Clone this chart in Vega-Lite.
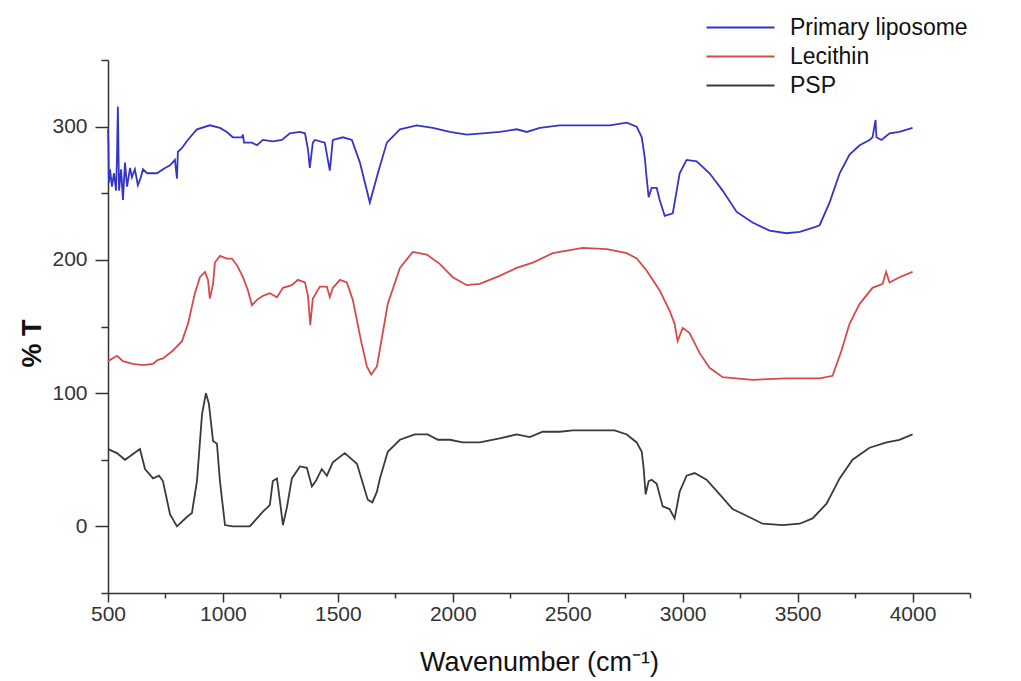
{
  "$schema": "https://vega.github.io/schema/vega-lite/v6.json",
  "width": 862,
  "height": 533,
  "autosize": {"type": "none"},
  "padding": {"left": 108, "top": 60, "right": 51, "bottom": 88},
  "background": "white",
  "datasets": {
    "spectra": [
      {"series": "PSP", "wavenumber": 500, "t": 58}, {"series": "PSP", "wavenumber": 539, "t": 55}, {"series": "PSP", "wavenumber": 574, "t": 50}, {"series": "PSP", "wavenumber": 639, "t": 58}, {"series": "PSP", "wavenumber": 661, "t": 43}, {"series": "PSP", "wavenumber": 696, "t": 36}, {"series": "PSP", "wavenumber": 722, "t": 38}, {"series": "PSP", "wavenumber": 739, "t": 34}, {"series": "PSP", "wavenumber": 770, "t": 9}, {"series": "PSP", "wavenumber": 800, "t": 0}, {"series": "PSP", "wavenumber": 843, "t": 7}, {"series": "PSP", "wavenumber": 865, "t": 10}, {"series": "PSP", "wavenumber": 887, "t": 34}, {"series": "PSP", "wavenumber": 909, "t": 84}, {"series": "PSP", "wavenumber": 926, "t": 100}, {"series": "PSP", "wavenumber": 939, "t": 92}, {"series": "PSP", "wavenumber": 957, "t": 64}, {"series": "PSP", "wavenumber": 974, "t": 62}, {"series": "PSP", "wavenumber": 987, "t": 34}, {"series": "PSP", "wavenumber": 1009, "t": 1}, {"series": "PSP", "wavenumber": 1043, "t": 0}, {"series": "PSP", "wavenumber": 1117, "t": 0}, {"series": "PSP", "wavenumber": 1174, "t": 11}, {"series": "PSP", "wavenumber": 1204, "t": 16}, {"series": "PSP", "wavenumber": 1217, "t": 34}, {"series": "PSP", "wavenumber": 1235, "t": 36}, {"series": "PSP", "wavenumber": 1248, "t": 19}, {"series": "PSP", "wavenumber": 1261, "t": 1}, {"series": "PSP", "wavenumber": 1278, "t": 14}, {"series": "PSP", "wavenumber": 1300, "t": 36}, {"series": "PSP", "wavenumber": 1335, "t": 45}, {"series": "PSP", "wavenumber": 1365, "t": 44}, {"series": "PSP", "wavenumber": 1387, "t": 30}, {"series": "PSP", "wavenumber": 1404, "t": 34}, {"series": "PSP", "wavenumber": 1430, "t": 43}, {"series": "PSP", "wavenumber": 1452, "t": 38}, {"series": "PSP", "wavenumber": 1478, "t": 48}, {"series": "PSP", "wavenumber": 1530, "t": 55}, {"series": "PSP", "wavenumber": 1583, "t": 47}, {"series": "PSP", "wavenumber": 1630, "t": 20}, {"series": "PSP", "wavenumber": 1650, "t": 18}, {"series": "PSP", "wavenumber": 1670, "t": 26}, {"series": "PSP", "wavenumber": 1683, "t": 36}, {"series": "PSP", "wavenumber": 1717, "t": 56}, {"series": "PSP", "wavenumber": 1770, "t": 65}, {"series": "PSP", "wavenumber": 1835, "t": 69}, {"series": "PSP", "wavenumber": 1891, "t": 69}, {"series": "PSP", "wavenumber": 1935, "t": 65}, {"series": "PSP", "wavenumber": 1987, "t": 65}, {"series": "PSP", "wavenumber": 2043, "t": 63}, {"series": "PSP", "wavenumber": 2117, "t": 63}, {"series": "PSP", "wavenumber": 2204, "t": 66}, {"series": "PSP", "wavenumber": 2278, "t": 69}, {"series": "PSP", "wavenumber": 2335, "t": 67}, {"series": "PSP", "wavenumber": 2391, "t": 71}, {"series": "PSP", "wavenumber": 2465, "t": 71}, {"series": "PSP", "wavenumber": 2522, "t": 72}, {"series": "PSP", "wavenumber": 2639, "t": 72}, {"series": "PSP", "wavenumber": 2704, "t": 72}, {"series": "PSP", "wavenumber": 2757, "t": 69}, {"series": "PSP", "wavenumber": 2800, "t": 63}, {"series": "PSP", "wavenumber": 2822, "t": 56}, {"series": "PSP", "wavenumber": 2830, "t": 44}, {"series": "PSP", "wavenumber": 2839, "t": 24}, {"series": "PSP", "wavenumber": 2852, "t": 34}, {"series": "PSP", "wavenumber": 2865, "t": 35}, {"series": "PSP", "wavenumber": 2887, "t": 32}, {"series": "PSP", "wavenumber": 2913, "t": 15}, {"series": "PSP", "wavenumber": 2943, "t": 13}, {"series": "PSP", "wavenumber": 2965, "t": 6}, {"series": "PSP", "wavenumber": 2987, "t": 26}, {"series": "PSP", "wavenumber": 3017, "t": 38}, {"series": "PSP", "wavenumber": 3052, "t": 40}, {"series": "PSP", "wavenumber": 3104, "t": 35}, {"series": "PSP", "wavenumber": 3161, "t": 24}, {"series": "PSP", "wavenumber": 3217, "t": 13}, {"series": "PSP", "wavenumber": 3278, "t": 8}, {"series": "PSP", "wavenumber": 3348, "t": 2}, {"series": "PSP", "wavenumber": 3435, "t": 1}, {"series": "PSP", "wavenumber": 3509, "t": 2}, {"series": "PSP", "wavenumber": 3565, "t": 6}, {"series": "PSP", "wavenumber": 3626, "t": 17}, {"series": "PSP", "wavenumber": 3683, "t": 36}, {"series": "PSP", "wavenumber": 3739, "t": 50}, {"series": "PSP", "wavenumber": 3813, "t": 59}, {"series": "PSP", "wavenumber": 3887, "t": 63}, {"series": "PSP", "wavenumber": 3943, "t": 65}, {"series": "PSP", "wavenumber": 4000, "t": 69},

      {"series": "Lecithin", "wavenumber": 500, "t": 124}, {"series": "Lecithin", "wavenumber": 539, "t": 128}, {"series": "Lecithin", "wavenumber": 565, "t": 124}, {"series": "Lecithin", "wavenumber": 609, "t": 122}, {"series": "Lecithin", "wavenumber": 652, "t": 121}, {"series": "Lecithin", "wavenumber": 696, "t": 122}, {"series": "Lecithin", "wavenumber": 717, "t": 125}, {"series": "Lecithin", "wavenumber": 739, "t": 126}, {"series": "Lecithin", "wavenumber": 783, "t": 132}, {"series": "Lecithin", "wavenumber": 822, "t": 139}, {"series": "Lecithin", "wavenumber": 848, "t": 152}, {"series": "Lecithin", "wavenumber": 878, "t": 175}, {"series": "Lecithin", "wavenumber": 900, "t": 187}, {"series": "Lecithin", "wavenumber": 922, "t": 191}, {"series": "Lecithin", "wavenumber": 935, "t": 185}, {"series": "Lecithin", "wavenumber": 943, "t": 171}, {"series": "Lecithin", "wavenumber": 957, "t": 182}, {"series": "Lecithin", "wavenumber": 965, "t": 198}, {"series": "Lecithin", "wavenumber": 987, "t": 203}, {"series": "Lecithin", "wavenumber": 1017, "t": 201}, {"series": "Lecithin", "wavenumber": 1039, "t": 201}, {"series": "Lecithin", "wavenumber": 1061, "t": 196}, {"series": "Lecithin", "wavenumber": 1087, "t": 187}, {"series": "Lecithin", "wavenumber": 1109, "t": 177}, {"series": "Lecithin", "wavenumber": 1126, "t": 166}, {"series": "Lecithin", "wavenumber": 1148, "t": 170}, {"series": "Lecithin", "wavenumber": 1174, "t": 173}, {"series": "Lecithin", "wavenumber": 1204, "t": 175}, {"series": "Lecithin", "wavenumber": 1235, "t": 172}, {"series": "Lecithin", "wavenumber": 1261, "t": 179}, {"series": "Lecithin", "wavenumber": 1300, "t": 181}, {"series": "Lecithin", "wavenumber": 1326, "t": 185}, {"series": "Lecithin", "wavenumber": 1357, "t": 183}, {"series": "Lecithin", "wavenumber": 1370, "t": 173}, {"series": "Lecithin", "wavenumber": 1380, "t": 151}, {"series": "Lecithin", "wavenumber": 1391, "t": 171}, {"series": "Lecithin", "wavenumber": 1422, "t": 180}, {"series": "Lecithin", "wavenumber": 1452, "t": 180}, {"series": "Lecithin", "wavenumber": 1465, "t": 172}, {"series": "Lecithin", "wavenumber": 1478, "t": 179}, {"series": "Lecithin", "wavenumber": 1509, "t": 185}, {"series": "Lecithin", "wavenumber": 1539, "t": 183}, {"series": "Lecithin", "wavenumber": 1565, "t": 170}, {"series": "Lecithin", "wavenumber": 1600, "t": 140}, {"series": "Lecithin", "wavenumber": 1626, "t": 120}, {"series": "Lecithin", "wavenumber": 1645, "t": 114}, {"series": "Lecithin", "wavenumber": 1670, "t": 120}, {"series": "Lecithin", "wavenumber": 1717, "t": 167}, {"series": "Lecithin", "wavenumber": 1770, "t": 194}, {"series": "Lecithin", "wavenumber": 1826, "t": 206}, {"series": "Lecithin", "wavenumber": 1887, "t": 204}, {"series": "Lecithin", "wavenumber": 1943, "t": 197}, {"series": "Lecithin", "wavenumber": 2000, "t": 187}, {"series": "Lecithin", "wavenumber": 2061, "t": 181}, {"series": "Lecithin", "wavenumber": 2117, "t": 182}, {"series": "Lecithin", "wavenumber": 2204, "t": 188}, {"series": "Lecithin", "wavenumber": 2278, "t": 194}, {"series": "Lecithin", "wavenumber": 2348, "t": 198}, {"series": "Lecithin", "wavenumber": 2435, "t": 205}, {"series": "Lecithin", "wavenumber": 2565, "t": 209}, {"series": "Lecithin", "wavenumber": 2670, "t": 208}, {"series": "Lecithin", "wavenumber": 2757, "t": 205}, {"series": "Lecithin", "wavenumber": 2800, "t": 201}, {"series": "Lecithin", "wavenumber": 2843, "t": 192}, {"series": "Lecithin", "wavenumber": 2900, "t": 177}, {"series": "Lecithin", "wavenumber": 2943, "t": 162}, {"series": "Lecithin", "wavenumber": 2965, "t": 152}, {"series": "Lecithin", "wavenumber": 2978, "t": 139}, {"series": "Lecithin", "wavenumber": 3000, "t": 149}, {"series": "Lecithin", "wavenumber": 3030, "t": 145}, {"series": "Lecithin", "wavenumber": 3074, "t": 130}, {"series": "Lecithin", "wavenumber": 3117, "t": 119}, {"series": "Lecithin", "wavenumber": 3174, "t": 112}, {"series": "Lecithin", "wavenumber": 3304, "t": 110}, {"series": "Lecithin", "wavenumber": 3452, "t": 111}, {"series": "Lecithin", "wavenumber": 3596, "t": 111}, {"series": "Lecithin", "wavenumber": 3652, "t": 113}, {"series": "Lecithin", "wavenumber": 3691, "t": 132}, {"series": "Lecithin", "wavenumber": 3726, "t": 152}, {"series": "Lecithin", "wavenumber": 3770, "t": 167}, {"series": "Lecithin", "wavenumber": 3826, "t": 179}, {"series": "Lecithin", "wavenumber": 3870, "t": 182}, {"series": "Lecithin", "wavenumber": 3885, "t": 191}, {"series": "Lecithin", "wavenumber": 3900, "t": 183}, {"series": "Lecithin", "wavenumber": 3943, "t": 187}, {"series": "Lecithin", "wavenumber": 4000, "t": 191},

      {"series": "Primary liposome", "wavenumber": 500, "t": 298}, {"series": "Primary liposome", "wavenumber": 502, "t": 285}, {"series": "Primary liposome", "wavenumber": 504, "t": 258}, {"series": "Primary liposome", "wavenumber": 509, "t": 268}, {"series": "Primary liposome", "wavenumber": 517, "t": 255}, {"series": "Primary liposome", "wavenumber": 526, "t": 265}, {"series": "Primary liposome", "wavenumber": 535, "t": 252}, {"series": "Primary liposome", "wavenumber": 539, "t": 277}, {"series": "Primary liposome", "wavenumber": 543, "t": 315}, {"series": "Primary liposome", "wavenumber": 548, "t": 252}, {"series": "Primary liposome", "wavenumber": 557, "t": 268}, {"series": "Primary liposome", "wavenumber": 565, "t": 245}, {"series": "Primary liposome", "wavenumber": 574, "t": 273}, {"series": "Primary liposome", "wavenumber": 583, "t": 255}, {"series": "Primary liposome", "wavenumber": 596, "t": 269}, {"series": "Primary liposome", "wavenumber": 604, "t": 262}, {"series": "Primary liposome", "wavenumber": 617, "t": 268}, {"series": "Primary liposome", "wavenumber": 630, "t": 256}, {"series": "Primary liposome", "wavenumber": 643, "t": 262}, {"series": "Primary liposome", "wavenumber": 652, "t": 268}, {"series": "Primary liposome", "wavenumber": 670, "t": 265}, {"series": "Primary liposome", "wavenumber": 713, "t": 265}, {"series": "Primary liposome", "wavenumber": 748, "t": 269}, {"series": "Primary liposome", "wavenumber": 770, "t": 271}, {"series": "Primary liposome", "wavenumber": 791, "t": 275}, {"series": "Primary liposome", "wavenumber": 800, "t": 261}, {"series": "Primary liposome", "wavenumber": 804, "t": 281}, {"series": "Primary liposome", "wavenumber": 822, "t": 284}, {"series": "Primary liposome", "wavenumber": 843, "t": 289}, {"series": "Primary liposome", "wavenumber": 857, "t": 292}, {"series": "Primary liposome", "wavenumber": 887, "t": 298}, {"series": "Primary liposome", "wavenumber": 943, "t": 301}, {"series": "Primary liposome", "wavenumber": 987, "t": 299}, {"series": "Primary liposome", "wavenumber": 1017, "t": 296}, {"series": "Primary liposome", "wavenumber": 1043, "t": 292}, {"series": "Primary liposome", "wavenumber": 1083, "t": 292}, {"series": "Primary liposome", "wavenumber": 1087, "t": 294}, {"series": "Primary liposome", "wavenumber": 1092, "t": 288}, {"series": "Primary liposome", "wavenumber": 1126, "t": 288}, {"series": "Primary liposome", "wavenumber": 1148, "t": 286}, {"series": "Primary liposome", "wavenumber": 1174, "t": 290}, {"series": "Primary liposome", "wavenumber": 1217, "t": 289}, {"series": "Primary liposome", "wavenumber": 1257, "t": 290}, {"series": "Primary liposome", "wavenumber": 1291, "t": 295}, {"series": "Primary liposome", "wavenumber": 1335, "t": 296}, {"series": "Primary liposome", "wavenumber": 1357, "t": 295}, {"series": "Primary liposome", "wavenumber": 1370, "t": 283}, {"series": "Primary liposome", "wavenumber": 1378, "t": 269}, {"series": "Primary liposome", "wavenumber": 1391, "t": 288}, {"series": "Primary liposome", "wavenumber": 1400, "t": 290}, {"series": "Primary liposome", "wavenumber": 1443, "t": 288}, {"series": "Primary liposome", "wavenumber": 1465, "t": 267}, {"series": "Primary liposome", "wavenumber": 1478, "t": 290}, {"series": "Primary liposome", "wavenumber": 1522, "t": 292}, {"series": "Primary liposome", "wavenumber": 1561, "t": 290}, {"series": "Primary liposome", "wavenumber": 1596, "t": 273}, {"series": "Primary liposome", "wavenumber": 1639, "t": 243}, {"series": "Primary liposome", "wavenumber": 1674, "t": 265}, {"series": "Primary liposome", "wavenumber": 1713, "t": 288}, {"series": "Primary liposome", "wavenumber": 1770, "t": 298}, {"series": "Primary liposome", "wavenumber": 1843, "t": 301}, {"series": "Primary liposome", "wavenumber": 1913, "t": 299}, {"series": "Primary liposome", "wavenumber": 1987, "t": 296}, {"series": "Primary liposome", "wavenumber": 2061, "t": 294}, {"series": "Primary liposome", "wavenumber": 2130, "t": 295}, {"series": "Primary liposome", "wavenumber": 2204, "t": 296}, {"series": "Primary liposome", "wavenumber": 2278, "t": 298}, {"series": "Primary liposome", "wavenumber": 2322, "t": 296}, {"series": "Primary liposome", "wavenumber": 2378, "t": 299}, {"series": "Primary liposome", "wavenumber": 2465, "t": 301}, {"series": "Primary liposome", "wavenumber": 2565, "t": 301}, {"series": "Primary liposome", "wavenumber": 2683, "t": 301}, {"series": "Primary liposome", "wavenumber": 2757, "t": 303}, {"series": "Primary liposome", "wavenumber": 2800, "t": 300}, {"series": "Primary liposome", "wavenumber": 2822, "t": 292}, {"series": "Primary liposome", "wavenumber": 2835, "t": 277}, {"series": "Primary liposome", "wavenumber": 2843, "t": 262}, {"series": "Primary liposome", "wavenumber": 2852, "t": 247}, {"series": "Primary liposome", "wavenumber": 2865, "t": 254}, {"series": "Primary liposome", "wavenumber": 2887, "t": 254}, {"series": "Primary liposome", "wavenumber": 2900, "t": 245}, {"series": "Primary liposome", "wavenumber": 2922, "t": 233}, {"series": "Primary liposome", "wavenumber": 2957, "t": 235}, {"series": "Primary liposome", "wavenumber": 2974, "t": 252}, {"series": "Primary liposome", "wavenumber": 2987, "t": 265}, {"series": "Primary liposome", "wavenumber": 3017, "t": 275}, {"series": "Primary liposome", "wavenumber": 3061, "t": 274}, {"series": "Primary liposome", "wavenumber": 3117, "t": 265}, {"series": "Primary liposome", "wavenumber": 3174, "t": 252}, {"series": "Primary liposome", "wavenumber": 3235, "t": 236}, {"series": "Primary liposome", "wavenumber": 3304, "t": 228}, {"series": "Primary liposome", "wavenumber": 3378, "t": 222}, {"series": "Primary liposome", "wavenumber": 3452, "t": 220}, {"series": "Primary liposome", "wavenumber": 3509, "t": 221}, {"series": "Primary liposome", "wavenumber": 3565, "t": 224}, {"series": "Primary liposome", "wavenumber": 3596, "t": 226}, {"series": "Primary liposome", "wavenumber": 3639, "t": 243}, {"series": "Primary liposome", "wavenumber": 3683, "t": 265}, {"series": "Primary liposome", "wavenumber": 3726, "t": 279}, {"series": "Primary liposome", "wavenumber": 3770, "t": 286}, {"series": "Primary liposome", "wavenumber": 3813, "t": 290}, {"series": "Primary liposome", "wavenumber": 3826, "t": 292}, {"series": "Primary liposome", "wavenumber": 3839, "t": 305}, {"series": "Primary liposome", "wavenumber": 3843, "t": 292}, {"series": "Primary liposome", "wavenumber": 3865, "t": 290}, {"series": "Primary liposome", "wavenumber": 3900, "t": 295}, {"series": "Primary liposome", "wavenumber": 3943, "t": 296}, {"series": "Primary liposome", "wavenumber": 4000, "t": 299}
    ]
  },
  "data": {"name": "spectra"},
  "mark": {"type": "line", "strokeWidth": 1.8, "interpolate": "linear"},
  "encoding": {
    "x": {
      "field": "wavenumber",
      "type": "quantitative",
      "scale": {"domain": [500, 4250], "nice": false, "zero": false},
      "axis": {
        "title": "Wavenumber (cm⁻¹)",
        "values": [500, 750, 1000, 1250, 1500, 1750, 2000, 2250, 2500, 2750, 3000, 3250, 3500, 3750, 4000, 4250],
        "labelExpr": "datum.value % 500 === 0 ? datum.label : ''",
        "format": "d",
        "tickSize": {"condition": {"test": "datum.value % 500 === 0", "value": 9}, "value": 5},
        "labelPadding": 1,
        "titleY": 77,
        "titleBaseline": "alphabetic"
      }
    },
    "y": {
      "field": "t",
      "type": "quantitative",
      "scale": {"domain": [-50, 350], "nice": false, "zero": false},
      "axis": {
        "title": "% T",
        "values": [-50, 0, 50, 100, 150, 200, 250, 300, 350],
        "labelExpr": "datum.value % 100 === 0 && datum.value >= 0 ? datum.label : ''",
        "format": "d",
        "tickSize": {"condition": {"test": "datum.value % 100 === 0", "value": 13}, "value": 7},
        "labelPadding": 8,
        "titleFontWeight": "bold",
        "titleX": -76,
        "titleY": 283,
        "titleBaseline": "middle"
      }
    },
    "color": {
      "field": "series",
      "type": "nominal",
      "scale": {
        "domain": ["Primary liposome", "Lecithin", "PSP"],
        "range": ["#3535c5", "#d84a4a", "#3a3a3a"]
      },
      "legend": {
        "title": null,
        "orient": "none",
        "legendX": 621,
        "legendY": -44,
        "symbolType": "M-5,0H5",
        "symbolSize": 185,
        "symbolStrokeWidth": 2,
        "symbolFillColor": "transparent",
        "labelOffset": 38,
        "labelFontSize": 23,
        "labelFont": "Liberation Sans",
        "labelColor": "#111",
        "labelLimit": 0,
        "rowPadding": 5,
        "padding": 0
      }
    }
  },
  "config": {
    "view": {"stroke": null},
    "axis": {
      "grid": false,
      "domainColor": "#333",
      "domainWidth": 1.5,
      "tickColor": "#333",
      "tickWidth": 1.5,
      "labelFont": "Liberation Sans",
      "labelFontSize": 21,
      "labelColor": "#333",
      "labelFlush": false,
      "labelOverlap": false,
      "titleFont": "Liberation Sans",
      "titleFontSize": 27,
      "titleFontWeight": "normal",
      "titleColor": "#111"
    }
  }
}
